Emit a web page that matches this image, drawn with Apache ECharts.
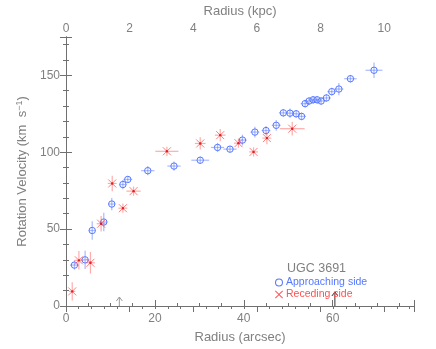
<!DOCTYPE html>
<html>
<head>
<meta charset="utf-8">
<script src="https://cdn.jsdelivr.net/npm/echarts@6/dist/echarts.min.js"></script>
<style>
  html, body { margin: 0; padding: 0; background: #fff; }
  #chart { width: 436px; height: 349px; }
</style>
</head>
<body>
<div id="chart"></div>
<script>
// approaching side (blue circles): radius in arcsec, velocity in km/s, errors
const appR    = [1.9, 4.3, 5.9, 8.5, 10.3, 12.8, 13.9, 18.4, 24.3, 30.2, 34.1, 36.9, 39.7, 42.5, 45.0, 47.3, 48.9, 50.4, 51.8, 53.0, 53.8, 54.7, 55.6, 56.5, 57.4, 58.6, 59.8, 61.4, 64.0, 69.3];
const appV    = [26.6, 30.0, 49.1, 54.6, 66.3, 79.0, 82.3, 88.0, 91.0, 94.8, 103.1, 102.0, 107.9, 113.1, 114.1, 117.5, 125.6, 125.4, 125.0, 123.3, 131.6, 133.3, 134.1, 134.1, 133.3, 135.3, 139.4, 141.1, 147.8, 153.3];
const appErrR = [1.0, 1.0, 0.8, 0.8, 0.8, 0.8, 1.0, 1.5, 1.5, 2.0, 1.5, 1.5, 1.0, 1.0, 1.0, 1.0, 1.0, 1.0, 1.0, 1.0, 1.0, 1.0, 1.0, 1.0, 1.0, 1.0, 1.0, 1.0, 1.4, 1.9];
const appErrV = [3, 6, 6, 6, 4, 3, 2, 3, 3, 2.5, 3, 2, 3.5, 3.5, 3, 3.5, 2.5, 3, 2.5, 2.5, 2.5, 2.5, 2.5, 2.5, 2.5, 2.5, 2.5, 4, 2.5, 5];

// receding side (red crosses)
const recR    = [1.4, 2.9, 5.5, 7.9, 10.4, 12.8, 15.2, 22.7, 30.2, 34.7, 38.8, 42.2, 45.2, 50.9];
const recV    = [9.5, 29.7, 28.1, 53.5, 79.7, 63.6, 74.7, 100.6, 105.7, 111.1, 105.9, 100.2, 109.2, 115.3];
const recErrR = [0.7, 1.0, 1.0, 1.0, 1.0, 1.0, 1.6, 2.6, 1.2, 1.2, 1.0, 1.0, 1.0, 2.8];
const recErrV = [6, 6, 7, 5, 5, 3, 3, 3, 4, 4, 3, 3, 4, 4.5];

// arrows along the bottom axis
const arrowR = [12.0, 60.5];
const arrowColor = ['#9a9a9a', '#333333'];

const xMax = 78.3;          // arcsec
const arcsecPerKpc = 7.16;
const yMax = 175;

const axisGray = '#707070';
const textGray = '#808080';
const blue = '#5577ff';
const blueBar = 'rgba(100,130,255,0.55)';
const red = '#ff5050';
const redBar = 'rgba(255,90,90,0.5)';
const font = 'Liberation Sans';

const chart = echarts.init(document.getElementById('chart'), null, { renderer: 'canvas' });

const errRender = (kind) => (params, api) => {
  const x = api.value(0), y = api.value(1), ex = api.value(2), ey = api.value(3);
  const c = api.coord([x, y]);
  const l = api.coord([x - ex, y]), r = api.coord([x + ex, y]);
  const t = api.coord([x, y + ey]), b = api.coord([x, y - ey]);
  const barColor = kind === 'app' ? blueBar : redBar;
  const children = [
    { type: 'line', shape: { x1: l[0], y1: c[1], x2: r[0], y2: c[1] }, style: { stroke: barColor, lineWidth: 1.2 } },
    { type: 'line', shape: { x1: c[0], y1: t[1], x2: c[0], y2: b[1] }, style: { stroke: barColor, lineWidth: 1.2 } }
  ];
  if (kind === 'app') {
    children.push({ type: 'circle', shape: { cx: c[0], cy: c[1], r: 3.2 }, style: { fill: 'none', stroke: blue, lineWidth: 1 } });
  } else {
    const s = 4;
    children.push({ type: 'line', shape: { x1: c[0] - s, y1: c[1] - s, x2: c[0] + s, y2: c[1] + s }, style: { stroke: 'rgba(255,70,70,0.7)', lineWidth: 1 } });
    children.push({ type: 'line', shape: { x1: c[0] - s, y1: c[1] + s, x2: c[0] + s, y2: c[1] - s }, style: { stroke: 'rgba(255,70,70,0.7)', lineWidth: 1 } });
    children.push({ type: 'circle', shape: { cx: c[0], cy: c[1], r: 1.2 }, style: { fill: '#e02020' } });
  }
  return { type: 'group', children };
};

const arrowRender = (params, api) => {
  const x = api.value(0);
  const base = api.coord([x, 0]);
  const len = params.dataIndex === 0 ? 9 : 14;
  const col = arrowColor[params.dataIndex];
  const top = base[1] - len;
  return {
    type: 'group',
    children: [
      { type: 'line', shape: { x1: base[0], y1: base[1], x2: base[0], y2: top }, style: { stroke: col, lineWidth: 1 } },
      { type: 'polyline', shape: { points: [[base[0] - 3, top + 4], [base[0], top], [base[0] + 3, top + 4]] }, style: { stroke: col, fill: 'none', lineWidth: 1 } }
    ]
  };
};

const isMult = (v, m) => Math.abs(v / m - Math.round(v / m)) < 1e-6;

const tickAxis = (extra) => Object.assign({
  type: 'value',
  splitLine: { show: false },
  axisLine: { show: false },
  axisLabel: { show: false },
  axisTick: { inside: true, length: 6, lineStyle: { color: axisGray } }
}, extra);

const ringIcon = 'path://M5,0A5,5 0 1,1 4.99,0ZM5,1.3A3.7,3.7 0 1,0 5.01,1.3Z';
const crossIcon = 'path://M0,0.8L0.8,0L5,4.2L9.2,0L10,0.8L5.8,5L10,9.2L9.2,10L5,5.8L0.8,10L0,9.2L4.2,5Z';

const option = {
  animation: false,
  grid: { left: 66, right: 22, top: 33, bottom: 36, containLabel: false },
  title: {
    text: 'UGC 3691',
    left: 287, top: 262, padding: 0,
    textStyle: { fontFamily: font, fontSize: 12.5, fontWeight: 'normal', color: textGray }
  },
  legend: {
    orient: 'vertical',
    left: 275, top: 277, padding: 0,
    itemGap: 1, itemWidth: 8, itemHeight: 8,
    selectedMode: false,
    textStyle: { fontFamily: font, fontSize: 10.5, padding: [0, 0, 0, -2] },
    data: [
      { name: 'Approaching side', icon: ringIcon, itemStyle: { color: blue, borderWidth: 0 }, textStyle: { color: blue } },
      { name: 'Receding side', icon: crossIcon, itemStyle: { color: red, borderWidth: 0 }, textStyle: { color: red } }
    ]
  },
  xAxis: [
    {
      type: 'value', position: 'bottom', min: 0, max: xMax, interval: 5,
      name: 'Radius (arcsec)', nameLocation: 'middle', nameGap: 25,
      nameTextStyle: { fontFamily: font, fontSize: 13, color: textGray },
      splitLine: { show: false },
      axisLine: { onZero: false, lineStyle: { color: axisGray, type: [4, 2] } },
      axisTick: { inside: true, length: 3, lineStyle: { color: axisGray } },
      axisLabel: { showMaxLabel: false, margin: 7, fontFamily: font, fontSize: 12, color: textGray, formatter: v => isMult(v, 20) ? String(v) : '' }
    },
    tickAxis({ position: 'bottom', min: 0, max: xMax, interval: 20 }),
    {
      type: 'value', position: 'top', min: 0, max: xMax / arcsecPerKpc, interval: 0.4,
      name: 'Radius (kpc)', nameLocation: 'middle', nameGap: 18,
      nameTextStyle: { fontFamily: font, fontSize: 13, color: textGray },
      splitLine: { show: false },
      axisLine: { lineStyle: { color: axisGray } },
      axisTick: { inside: true, length: 3, lineStyle: { color: axisGray } },
      axisLabel: { showMaxLabel: false, margin: 2, fontFamily: font, fontSize: 12, color: textGray, formatter: v => isMult(v, 2) ? String(Math.round(v)) : '' }
    },
    tickAxis({ position: 'top', min: 0, max: xMax / arcsecPerKpc, interval: 2 })
  ],
  yAxis: [
    {
      type: 'value', position: 'left', min: 0, max: yMax, interval: 10,
      name: 'Rotation Velocity (km  s{sup|−1})', nameLocation: 'middle', nameGap: 33,
      nameTextStyle: {
        fontFamily: font, fontSize: 13, color: textGray,
        rich: { sup: { fontFamily: font, fontSize: 9, color: textGray, verticalAlign: 'top', padding: [0, 0, 6, 0] } }
      },
      splitLine: { show: false },
      axisLine: { lineStyle: { color: axisGray } },
      axisTick: { inside: true, length: 3, lineStyle: { color: axisGray } },
      axisLabel: { showMaxLabel: false, margin: 6, fontFamily: font, fontSize: 12, color: textGray, formatter: v => isMult(v, 50) ? String(v) : '' }
    },
    tickAxis({ position: 'left', min: 0, max: yMax, interval: 50 }),
    tickAxis({ position: 'right', min: 0, max: yMax, interval: 10, axisLine: { show: true, lineStyle: { color: axisGray } }, axisTick: { inside: true, length: 3, lineStyle: { color: axisGray } } }),
    tickAxis({ position: 'right', min: 0, max: yMax, interval: 50 })
  ],
  series: [
    {
      name: 'Approaching side',
      type: 'custom',
      xAxisIndex: 0, yAxisIndex: 0,
      itemStyle: { color: blue },
      renderItem: errRender('app'),
      encode: { x: 0, y: 1 },
      data: appR.map((r, i) => [r, appV[i], appErrR[i], appErrV[i]])
    },
    {
      name: 'Receding side',
      type: 'custom',
      xAxisIndex: 0, yAxisIndex: 0,
      itemStyle: { color: red },
      renderItem: errRender('rec'),
      encode: { x: 0, y: 1 },
      data: recR.map((r, i) => [r, recV[i], recErrR[i], recErrV[i]])
    },
    {
      name: 'arrows',
      type: 'custom',
      xAxisIndex: 0, yAxisIndex: 0,
      renderItem: arrowRender,
      encode: { x: 0, y: 1 },
      data: arrowR.map(r => [r, 0])
    }
  ]
};

chart.setOption(option);
</script>
</body>
</html>
